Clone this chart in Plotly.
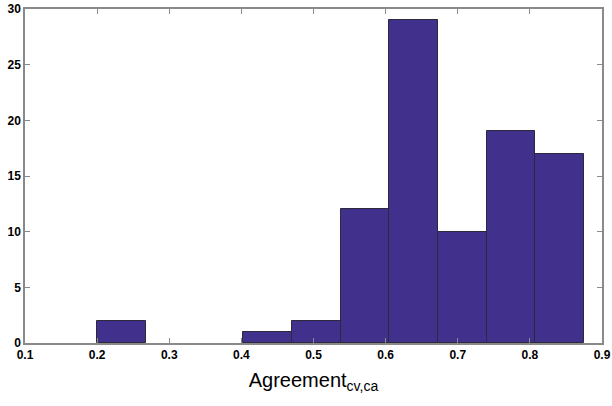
import plotly.graph_objects as go

bin_left = [0.2, 0.2675, 0.335, 0.4025, 0.47, 0.5375, 0.605, 0.6725, 0.74, 0.8075]
bin_width = 0.0675
counts = [2, 0, 0, 1, 2, 12, 29, 10, 19, 17]
x_ticks = [0.1, 0.2, 0.3, 0.4, 0.5, 0.6, 0.7, 0.8, 0.9]
y_ticks = [0, 5, 10, 15, 20, 25, 30]

centers = [l + bin_width / 2 for l in bin_left]
y_vals = [c if c > 0 else None for c in counts]

fig = go.Figure(go.Bar(
    x=centers, y=y_vals, width=[bin_width] * len(counts),
    marker=dict(color="#41318c", line=dict(color="#2a2a3a", width=1)),
))

axis_common = dict(
    showgrid=False, zeroline=False, showline=True, linecolor="#8a8a8a", linewidth=1.5,
    mirror="ticks", ticks="inside", ticklen=5, tickcolor="#8a8a8a", automargin=False,
    ticklabeloverflow="allow",
    tickfont=dict(family="Arial, Liberation Sans", size=12, color="black", weight="bold"),
)

fig.update_layout(
    width=612, height=406,
    margin=dict(l=25, r=10, t=9, b=63),
    paper_bgcolor="white", plot_bgcolor="white",
    showlegend=False,
    bargap=0,
    xaxis=dict(range=[0.1, 0.9], tickvals=x_ticks, ticktext=[f"{v:g}" for v in x_ticks],
               title=dict(text="Agreement<sub>cv,ca</sub>",
                          font=dict(family="Arial, Liberation Sans", size=20, color="black"),
                          standoff=12),
               **axis_common),
    yaxis=dict(range=[0, 30], tickvals=y_ticks, **axis_common),
)

fig.write_html("out.html", config={"displayModeBar": False},
               post_script="document.body.style.margin='0';")
